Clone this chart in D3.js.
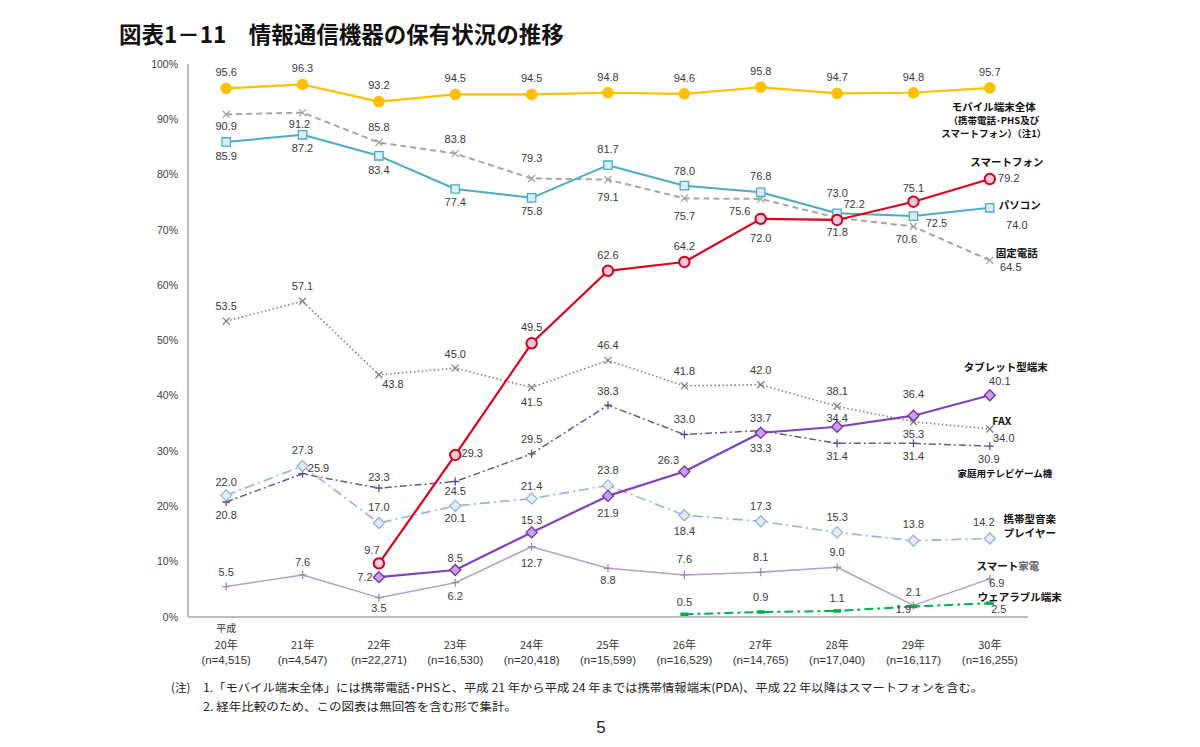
<!DOCTYPE html>
<html><head><meta charset="utf-8">
<script src="https://cdn.jsdelivr.net/npm/d3@7"></script>
<style>
body{margin:0;background:#fff;}
svg{display:block;font-family:"Liberation Sans",Arial,"Noto Sans CJK JP",sans-serif;}
.jp{font-family:"Noto Sans CJK JP","Liberation Sans",sans-serif;}
</style></head>
<body>
<svg id="chart" width="1200" height="747"></svg>
<script>
// ---------- data ----------
const years = ["20年","21年","22年","23年","24年","25年","26年","27年","28年","29年","30年"];
const sampleSizes = ["(n=4,515)","(n=4,547)","(n=22,271)","(n=16,530)","(n=20,418)","(n=15,599)","(n=16,529)","(n=14,765)","(n=17,040)","(n=16,117)","(n=16,255)"];
const yTicks = [0,10,20,30,40,50,60,70,80,90,100];

const mobileAll   = [95.6,96.3,93.2,94.5,94.5,94.8,94.6,95.8,94.7,94.8,95.7];
const fixedPhone  = [90.9,91.2,85.8,83.8,79.3,79.1,75.7,75.6,72.2,70.6,64.5];
const pc          = [85.9,87.2,83.4,77.4,75.8,81.7,78.0,76.8,73.0,72.5,74.0];
const smartphone  = [null,null,9.7,29.3,49.5,62.6,64.2,72.0,71.8,75.1,79.2];
const fax         = [53.5,57.1,43.8,45.0,41.5,46.4,41.8,42.0,38.1,35.3,34.0];
const gameConsole = [20.8,25.9,23.3,24.5,29.5,38.3,33.0,33.7,31.4,31.4,30.9];
const tablet      = [null,null,7.2,8.5,15.3,21.9,26.3,33.3,34.4,36.4,40.1];
const musicPlayer = [22.0,27.3,17.0,20.1,21.4,23.8,18.4,17.3,15.3,13.8,14.2];
const smartHome   = [5.5,7.6,3.5,6.2,12.7,8.8,7.6,8.1,9.0,2.1,6.9];
const wearable    = [null,null,null,null,null,null,0.5,0.9,1.1,1.9,2.5];

// ---------- layout / style ----------
const svg = d3.select("#chart");
const x = d3.scalePoint().domain(years).range([188,1028]).padding(0.5);
const y = d3.scaleLinear().domain([0,100]).range([617,64]);

const series = [
 {name:["モバイル端末全体","（携帯電話･PHS及び","スマートフォン）（注1）"], values:mobileAll, color:"#FFC000", width:2.2, dash:null, marker:"circle", fill:"#FFC000", mstroke:"#FFC000", r:5.2,
  lab:[[0,-16],[0,-16],[0,-16],[0,-16],[0,-16],[0,-16],[0,-16],[0,-16],[0,-16],[0,-16],[0,-16]], nameOff:[[4,20],[4,33],[4,46]]},
 {name:["固定電話"], values:fixedPhone, color:"#A6A6A6", width:2, dash:"6,4", marker:"x", mstroke:"#A6A6A6", r:3.5,
  lab:[[0,12],[-3,11],[0,-15],[0,-14],[0,-20],[0,18],[0,18],[-21,12],[17,-14],[-7,13],[21,7]], nameOff:[[27,-7]]},
 {name:["パソコン"], values:pc, color:"#4BACC6", width:2, dash:null, marker:"square", fill:"#DAEEF3", mstroke:"#4BACC6", r:4.2,
  lab:[[0,14],[0,13],[0,14],[0,13],[0,13],[0,-16],[0,-15],[0,-16],[0,-20],[23,7],[27,17]], nameOff:[[30,-2]]},
 {name:["FAX"], values:fax, color:"#7F7F7F", width:1.6, dash:"1.5,2.5", marker:"x", mstroke:"#7F7F7F", r:3.5,
  lab:[[0,-15],[0,-15],[14,9],[0,-14],[0,15],[0,-15],[0,-15],[0,-15],[0,-15],[0,12],[14,9]], nameOff:[[12,-8]]},
 {name:["家庭用テレビゲーム機"], values:gameConsole, color:"#6A5A8C", width:1.5, dash:"7,3,2,3", marker:"plus", mstroke:"#5F4B8B", r:4,
  lab:[[0,13],[16,-6],[0,-11],[0,10],[0,-15],[0,-14],[0,-15],[0,-12],[0,13],[0,13],[-1,13]], nameOff:[[15,28]]},
 {name:["携帯型音楽","プレイヤー"], values:musicPlayer, color:"#95B3D7", width:1.6, dash:"10,4,2,4", marker:"diamond", fill:"#E4ECF6", mstroke:"#95B3D7", r:5.5,
  lab:[[0,-13],[0,-16],[0,-16],[0,12],[0,-13],[0,-15],[0,16],[0,-15],[0,-15],[0,-17],[-6,-16]], nameOff:[[40,-19.5],[40,-5.5]]},
 {name:["スマート家電"], values:smartHome, color:"#B3A2C7", width:1.5, dash:null, marker:"plus", mstroke:"#9E8AB8", r:4,
  lab:[[0,-14],[0,-13],[0,11],[0,13],[0,16],[0,12],[0,-16],[0,-15],[0,-15],[0,-13],[7,4]], nameOff:[[18,-13]]},
 {name:["ウェアラブル端末"], values:wearable, color:"#00B050", width:2, dash:"9,4,3,4", marker:"bar", mstroke:"#00B050", r:4,
  lab:[null,null,null,null,null,null,[0,-12],[0,-15],[0,-13],[-10,3],[9,6]], nameOff:[[30,-5.5]]},
 {name:["タブレット型端末"], values:tablet, color:"#8040C0", width:2.2, dash:null, marker:"diamond", fill:"#C9A0EE", mstroke:"#7030A0", r:5.5,
  lab:[null,null,[-14,0],[0,-12],[0,-12],[0,17],[-16,-11],[0,15],[0,-9],[0,-22],[10,-14]], nameOff:[[16,-28]]},
 {name:["スマートフォン"], values:smartphone, color:"#E0001B", width:2.2, dash:null, marker:"circle", fill:"#F6C6DC", mstroke:"#D0001A", r:5.2, mwidth:2,
  lab:[null,null,[-7,-13],[17,-2],[0,-16],[0,-16],[0,-16],[0,19],[0,12],[0,-14],[19,-1]], nameOff:[[17,-17]]}
];

// title
svg.append("text").attr("class","jp").attr("x",119).attr("y",43)
  .attr("font-size",22.5).attr("font-weight",700).attr("fill","#111")
  .text("図表1－11　情報通信機器の保有状況の推移");

// axes
const gy = svg.append("g");
gy.append("line").attr("x1",188).attr("x2",188).attr("y1",y(100)).attr("y2",y(0)).attr("stroke","#A6A6A6").attr("stroke-width",1.5);
gy.selectAll("text.yt").data(yTicks).join("text").attr("class","yt")
  .attr("x",178).attr("y",d=>y(d)).attr("dy","0.35em").attr("text-anchor","end")
  .attr("font-size",10.5).attr("fill","#404040").text(d=>d+"%");
svg.append("line").attr("x1",188).attr("x2",1028).attr("y1",y(0)).attr("y2",y(0)).attr("stroke","#A6A6A6").attr("stroke-width",1.5);

const gx = svg.append("g");
gx.append("text").attr("class","jp").attr("x",x(years[0])).attr("y",628).attr("dy","0.35em").attr("text-anchor","middle")
  .attr("font-size",10).attr("fill","#333").text("平成");
gx.selectAll("text.yr").data(years).join("text").attr("class","jp yr")
  .attr("x",d=>x(d)).attr("y",645).attr("dy","0.35em").attr("text-anchor","middle")
  .attr("font-size",11).attr("fill","#333").text(d=>d);
gx.selectAll("text.ns").data(sampleSizes).join("text").attr("class","ns")
  .attr("x",(d,i)=>x(years[i])).attr("y",659.5).attr("dy","0.35em").attr("text-anchor","middle")
  .attr("font-size",11.5).attr("fill","#333").text(d=>d);

// lines
const line = d3.line().defined(d=>d.v!=null).x(d=>x(d.year)).y(d=>y(d.v));
function markerPath(type,r){
  switch(type){
    case "x": return `M${-r},${-r}L${r},${r}M${-r},${r}L${r},${-r}`;
    case "plus": return `M${-r},0L${r},0M0,${-r}L0,${r}`;
    case "diamond": return `M0,${-r}L${r},0L0,${r}L${-r},0Z`;
    case "square": return `M${-r},${-r}H${r}V${r}H${-r}Z`;
    case "bar": return `M${-r},0L${r},0`;
  }
}
series.forEach(s=>{
  const pts = s.values.map((v,i)=>({year:years[i],v,i}));
  svg.append("path").datum(pts).attr("d",line).attr("fill","none")
    .attr("stroke",s.color).attr("stroke-width",s.width).attr("stroke-dasharray",s.dash)
    .attr("stroke-linejoin","round");
  const valid = pts.filter(p=>p.v!=null);
  const g = svg.append("g");
  valid.forEach(p=>{
    const cx=x(p.year), cy=y(p.v);
    if(s.marker==="circle"){
      g.append("circle").attr("cx",cx).attr("cy",cy).attr("r",s.r).attr("fill",s.fill).attr("stroke",s.mstroke).attr("stroke-width",s.mwidth||1.2);
    } else if(s.marker==="bar"){
      g.append("path").attr("transform",`translate(${cx},${cy})`).attr("d",markerPath("bar",s.r)).attr("stroke",s.mstroke).attr("stroke-width",3.5);
    } else {
      const filled = s.marker==="diamond"||s.marker==="square";
      g.append("path").attr("transform",`translate(${cx},${cy})`).attr("d",markerPath(s.marker,s.r))
        .attr("fill",filled?s.fill:"none").attr("stroke",s.mstroke).attr("stroke-width",1.3);
    }
  });
  s.g = g; s.valid = valid;
});

// value labels
series.forEach(s=>{
  s.valid.forEach(p=>{
    const o = s.lab[p.i]; if(!o) return;
    svg.append("text").attr("x",x(p.year)+o[0]).attr("y",y(p.v)+o[1]).attr("dy","0.35em")
      .attr("text-anchor","middle").attr("font-size",11).attr("fill","#3a3a3a").text(p.v.toFixed(1));
  });
  const last = s.valid[s.valid.length-1];
  s.name.forEach((t,k)=>{
    const o = s.nameOff[k];
    const tx = svg.append("text").attr("class","jp").attr("x",x(last.year)+o[0]).attr("y",y(last.v)+o[1]).attr("dy","0.35em")
      .attr("text-anchor","middle").attr("font-size",t.length>9?9.5:10.5).attr("font-weight",700).attr("fill","#111");
    if(t==="スマート家電"){ tx.append("tspan").text("スマート"); tx.append("tspan").attr("fill","#666").text("家電"); }
    else tx.text(t);
  });
});

// footnotes
svg.append("text").attr("class","jp").attr("x",171).attr("y",688).attr("dy","0.35em").attr("font-size",11.5).attr("fill","#222").text("(注)");
svg.append("text").attr("class","jp").attr("x",203).attr("y",688).attr("dy","0.35em").attr("font-size",11.5).attr("fill","#222")
  .attr("textLength",780).attr("lengthAdjust","spacingAndGlyphs")
  .text("1.「モバイル端末全体」には携帯電話･PHSと、平成 21 年から平成 24 年までは携帯情報端末(PDA)、平成 22 年以降はスマートフォンを含む。");
svg.append("text").attr("class","jp").attr("x",203).attr("y",707).attr("dy","0.35em").attr("font-size",11.5).attr("fill","#222")
  .attr("textLength",314).attr("lengthAdjust","spacingAndGlyphs")
  .text("2. 経年比較のため、この図表は無回答を含む形で集計。");
svg.append("text").attr("x",601).attr("y",727).attr("dy","0.35em").attr("text-anchor","middle").attr("font-size",17).attr("fill","#222").text("5");
</script>
</body></html>
